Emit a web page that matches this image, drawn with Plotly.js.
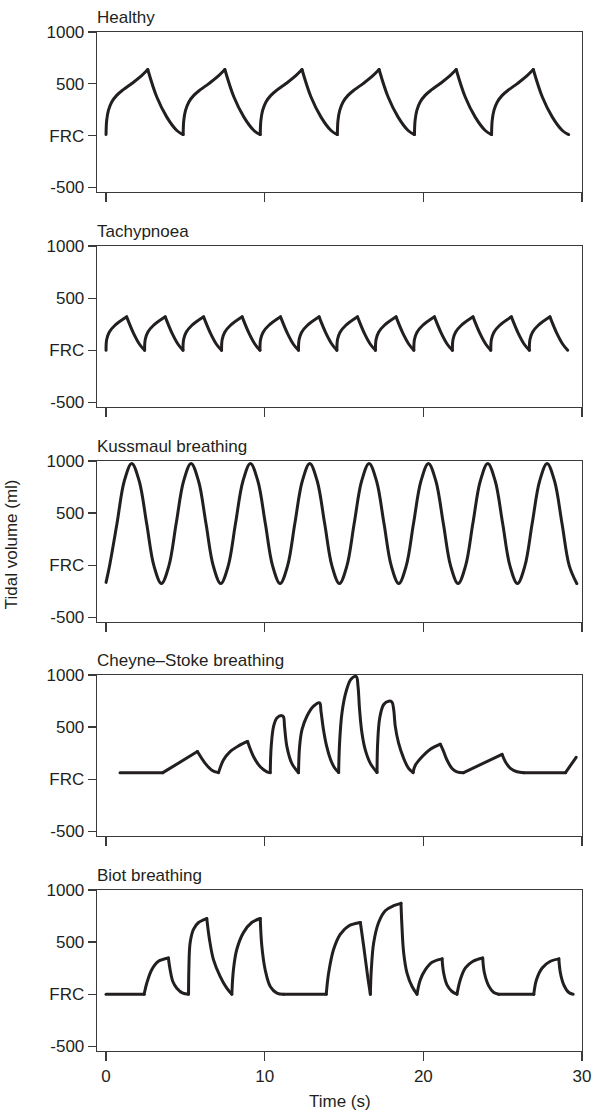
<!DOCTYPE html>
<html>
<head>
<meta charset="utf-8">
<script src="https://cdn.plot.ly/plotly-3.0.1.min.js"></script>
<style>
  html, body { margin: 0; padding: 0; background: #ffffff; }
  #chart { width: 595px; height: 1116px; }
  #chart path.js-line { stroke-linecap: round !important; stroke-linejoin: round !important; }
</style>
</head>
<body>
<div id="chart"></div>
<script>
// ---------- Data (time in s, volume in ml relative to FRC) ----------
// null separates breathing phases (each phase is a smooth piece; phases meet at sharp corners)
const panelTitles = ["Healthy", "Tachypnoea", "Kussmaul breathing", "Cheyne\u2013Stoke breathing", "Biot breathing"];
const yTickVals = [-500, 0, 500, 1000];
const yTickText = ["-500", "FRC", "500", "1000"];
const xTickVals = [0, 10, 20, 30];
const xTickText = ["0", "10", "20", "30"];

const healthyT = [
  0, 0.04, 0.15, 0.36, 0.67, 1.09, 1.62, 2.15, 2.63, null, 2.63, 3.20, 3.83, 4.46, 4.86, null,
  4.86, 4.90, 5.01, 5.22, 5.53, 5.95, 6.48, 7.01, 7.49, null, 7.49, 8.06, 8.69, 9.32, 9.72, null,
  9.72, 9.76, 9.87, 10.08, 10.39, 10.81, 11.34, 11.87, 12.35, null, 12.35, 12.92, 13.55, 14.18, 14.58, null,
  14.58, 14.62, 14.73, 14.94, 15.25, 15.67, 16.20, 16.73, 17.21, null, 17.21, 17.78, 18.41, 19.04, 19.44, null,
  19.44, 19.48, 19.59, 19.80, 20.11, 20.53, 21.06, 21.59, 22.07, null, 22.07, 22.64, 23.27, 23.90, 24.30, null,
  24.30, 24.34, 24.45, 24.66, 24.97, 25.39, 25.92, 26.45, 26.93, null, 26.93, 27.50, 28.13, 28.76, 29.16
];
const healthyV = [
  10, 146, 243, 324, 388, 443, 502, 566, 638, null, 638, 372, 178, 49, 10, null,
  10, 146, 243, 324, 388, 443, 502, 566, 638, null, 638, 372, 178, 49, 10, null,
  10, 146, 243, 324, 388, 443, 502, 566, 638, null, 638, 372, 178, 49, 10, null,
  10, 146, 243, 324, 388, 443, 502, 566, 638, null, 638, 372, 178, 49, 10, null,
  10, 146, 243, 324, 388, 443, 502, 566, 638, null, 638, 372, 178, 49, 10, null,
  10, 146, 243, 324, 388, 443, 502, 566, 638, null, 638, 372, 178, 49, 10
];

const tachyT = [
  0, 0.04, 0.20, 0.55, 1.30, null, 1.30, 1.72, 2.12, 2.43, null,
  2.43, 2.47, 2.63, 2.98, 3.73, null, 3.73, 4.15, 4.55, 4.85, null,
  4.85, 4.89, 5.05, 5.40, 6.15, null, 6.15, 6.57, 6.97, 7.28, null,
  7.28, 7.32, 7.48, 7.83, 8.58, null, 8.58, 9.00, 9.40, 9.70, null,
  9.70, 9.74, 9.90, 10.25, 11.00, null, 11.00, 11.42, 11.82, 12.13, null,
  12.13, 12.17, 12.33, 12.68, 13.43, null, 13.43, 13.85, 14.25, 14.55, null,
  14.55, 14.59, 14.75, 15.10, 15.85, null, 15.85, 16.27, 16.67, 16.98, null,
  16.98, 17.02, 17.18, 17.53, 18.28, null, 18.28, 18.70, 19.10, 19.40, null,
  19.40, 19.44, 19.60, 19.95, 20.70, null, 20.70, 21.12, 21.52, 21.83, null,
  21.83, 21.87, 22.03, 22.38, 23.13, null, 23.13, 23.55, 23.95, 24.25, null,
  24.25, 24.29, 24.45, 24.80, 25.55, null, 25.55, 25.97, 26.37, 26.68, null,
  26.68, 26.72, 26.88, 27.23, 27.98, null, 27.98, 28.40, 28.80, 29.10
];
const tachyV = [
  0, 103, 173, 237, 320, null, 320, 167, 55, 0, null,
  0, 103, 173, 237, 320, null, 320, 167, 55, 0, null,
  0, 103, 173, 237, 320, null, 320, 167, 55, 0, null,
  0, 103, 173, 237, 320, null, 320, 167, 55, 0, null,
  0, 103, 173, 237, 320, null, 320, 167, 55, 0, null,
  0, 103, 173, 237, 320, null, 320, 167, 55, 0, null,
  0, 103, 173, 237, 320, null, 320, 167, 55, 0, null,
  0, 103, 173, 237, 320, null, 320, 167, 55, 0, null,
  0, 103, 173, 237, 320, null, 320, 167, 55, 0, null,
  0, 103, 173, 237, 320, null, 320, 167, 55, 0, null,
  0, 103, 173, 237, 320, null, 320, 167, 55, 0, null,
  0, 103, 173, 237, 320, null, 320, 167, 55, 0
];

const kussT = [
  0, 0.22, 0.69, 1.15, 1.62,
  2.09, 2.56, 3.02, 3.49, 3.96, 4.42, 4.89, 5.36,
  5.83, 6.30, 6.76, 7.23, 7.70, 8.16, 8.63, 9.10,
  9.57, 10.04, 10.50, 10.97, 11.44, 11.90, 12.37, 12.84,
  13.31, 13.78, 14.24, 14.71, 15.18, 15.64, 16.11, 16.58,
  17.05, 17.52, 17.98, 18.45, 18.92, 19.38, 19.85, 20.32,
  20.79, 21.26, 21.72, 22.19, 22.66, 23.12, 23.59, 24.06,
  24.53, 25.00, 25.46, 25.93, 26.40, 26.86, 27.33, 27.80,
  28.27, 28.74, 29.20, 29.67
];
const kussV = [
  -165, -7, 400, 808, 977,
  808, 400, -7, -176, -7, 400, 808, 977,
  808, 400, -7, -176, -7, 400, 808, 977,
  808, 400, -7, -176, -7, 400, 808, 977,
  808, 400, -7, -176, -7, 400, 808, 977,
  808, 400, -7, -176, -7, 400, 808, 977,
  808, 400, -7, -176, -7, 400, 808, 977,
  808, 400, -7, -176, -7, 400, 808, 977,
  808, 400, -7, -176
];

const cheyneT = [
  0.88, 3.58, null,
  3.58, 5.76, null,
  5.76, 6.25, 6.67, 7.09, null,
  7.09, 7.40, 7.82, 8.35, 8.92, null,
  8.92, 9.30, 9.72, 10.14, 10.35, null,
  10.35, 10.41, 10.56, 10.77, 11.08, 11.19, 11.25, 11.40, 11.71, 12.13, null,
  12.13, 12.20, 12.35, 12.66, 13.08, 13.46, 13.55, 13.70, 13.90, 14.15, 14.40, 14.66, null,
  14.66, 14.72, 14.87, 15.14, 15.44, 15.77, 15.88, 15.98, 16.13, 16.34, 16.66, 17.08, null,
  17.08, 17.12, 17.25, 17.50, 17.81, 18.02, 18.13, 18.23, 18.44, 18.76, 19.07, 19.35, null,
  19.35, 19.50, 19.92, 20.44, 21.07, null,
  21.07, 21.28, 21.49, 21.81, 22.12, 22.54, null,
  22.54, 24.96, null,
  24.96, 25.17, 25.49, 25.91, 26.33, null,
  26.33, 28.96, null,
  28.96, 29.63
];
const cheyneV = [
  63, 63, null,
  63, 265, null,
  265, 152, 87, 63, null,
  63, 184, 265, 320, 362, null,
  362, 216, 119, 71, 63, null,
  63, 313, 507, 588, 610, 598, 507, 313, 152, 63, null,
  63, 313, 475, 604, 701, 733, 650, 480, 320, 190, 110, 65, null,
  65, 346, 636, 846, 959, 985, 895, 669, 443, 281, 152, 65, null,
  65, 346, 588, 717, 749, 740, 669, 507, 346, 200, 103, 63, null,
  63, 136, 216, 287, 336, null,
  336, 265, 184, 103, 71, 63, null,
  63, 239, null,
  239, 168, 103, 71, 63, null,
  63, 63, null,
  63, 210
];

const biotT = [
  0, 2.40, null,
  2.40, 2.57, 2.88, 3.30, 3.93, null,
  3.93, 4.04, 4.21, 4.46, 4.84, 5.20, null,
  5.20, 5.22, 5.30, 5.51, 5.83, 6.35, null,
  6.35, 6.52, 6.77, 7.19, 7.61, 7.93, null,
  7.93, 8.03, 8.24, 8.66, 9.18, 9.72, null,
  9.72, 9.82, 10.03, 10.35, 10.77, 11.20, null,
  11.20, 13.88, null,
  13.88, 14.03, 14.34, 14.76, 15.29, 16.03, null,
  16.03, 16.24, 16.49, 16.66, null,
  16.66, 16.72, 16.87, 17.18, 17.60, 18.13, 18.59, null,
  18.59, 18.65, 18.76, 18.97, 19.29, 19.60, null,
  19.60, 19.81, 20.13, 20.55, 21.18, null,
  21.18, 21.28, 21.49, 21.81, 22.12, null,
  22.12, 22.33, 22.65, 23.13, 23.74, null,
  23.74, 23.85, 24.12, 24.44, 24.75, null,
  24.75, 26.96, null,
  26.96, 27.13, 27.49, 28.01, 28.54, null,
  28.54, 28.64, 28.85, 29.17, 29.44
];
const biotV = [
  0, 0, null,
  0, 107, 235, 316, 348, null,
  348, 235, 122, 58, 10, 0, null,
  0, 235, 494, 623, 688, 726, null,
  726, 526, 332, 171, 58, 0, null,
  0, 235, 429, 591, 688, 726, null,
  726, 461, 235, 74, 10, 0, null,
  0, 0, null,
  0, 203, 429, 575, 655, 688, null,
  688, 461, 171, 0, null,
  0, 235, 494, 688, 801, 849, 872, null,
  872, 655, 397, 203, 74, 0, null,
  0, 139, 235, 306, 339, null,
  339, 203, 90, 26, 0, null,
  0, 139, 252, 316, 348, null,
  348, 203, 80, 16, 0, null,
  0, 0, null,
  0, 139, 252, 316, 339, null,
  339, 203, 90, 16, 0
];

const seriesT = [healthyT, tachyT, kussT, cheyneT, biotT];
const seriesV = [healthyV, tachyV, kussV, cheyneV, biotV];

// ---------- Layout ----------
const FONT = "Liberation Sans, Arial, Helvetica, sans-serif";
const INK = "#231f20";
const AXC = "#3a3a3a";
// panel domains (fraction of plot height, bottom to top), aligned to whole pixels
const domains = [
  [0.84298, 1.0],
  [0.63199, 0.78999],
  [0.42100, 0.57900],
  [0.21099, 0.36899],
  [0.0, 0.15800]
];

const traces = [];
const layout = {
  width: 595,
  height: 1116,
  margin: { l: 97, r: 13, t: 32, b: 65 },
  paper_bgcolor: "#ffffff",
  plot_bgcolor: "#ffffff",
  showlegend: false,
  font: { family: FONT, size: 17, color: INK },
  annotations: []
};

for (let i = 0; i < 5; i++) {
  const n = i + 1;
  const xa = n === 1 ? "x" : "x" + n;
  const ya = n === 1 ? "y" : "y" + n;
  traces.push({
    type: "scatter",
    mode: "lines",
    x: seriesT[i],
    y: seriesV[i],
    xaxis: xa,
    yaxis: ya,
    connectgaps: false,
    line: { color: INK, width: 3, shape: "spline", smoothing: 1 },
    hoverinfo: "skip"
  });
  layout["xaxis" + (n === 1 ? "" : n)] = {
    domain: [0, 1],
    anchor: ya,
    range: [-0.57, 30],
    tickvals: xTickVals,
    ticktext: xTickText,
    showticklabels: i === 4,
    ticks: "outside",
    ticklen: 9,
    tickwidth: 1.2,
    tickcolor: AXC,
    showline: true,
    mirror: true,
    linecolor: AXC,
    linewidth: 1.3,
    showgrid: false,
    zeroline: false,
    tickfont: { family: FONT, size: 17, color: INK }
  };
  layout["yaxis" + (n === 1 ? "" : n)] = {
    domain: domains[i],
    anchor: xa,
    range: [-545, 1000],
    tickvals: yTickVals,
    ticktext: yTickText,
    ticks: "outside",
    ticklen: 8,
    tickwidth: 1.2,
    tickcolor: AXC,
    showline: true,
    mirror: true,
    linecolor: AXC,
    linewidth: 1.3,
    showgrid: false,
    zeroline: false,
    tickfont: { family: FONT, size: 17, color: INK }
  };
  layout.annotations.push({
    text: panelTitles[i],
    xref: "paper",
    yref: "paper",
    x: 0,
    y: domains[i][1],
    xanchor: "left",
    yanchor: "bottom",
    xshift: -2,
    yshift: 3,
    showarrow: false,
    font: { family: FONT, size: 17, color: INK }
  });
}

layout.annotations.push({
  text: "Tidal volume (ml)",
  xref: "paper",
  yref: "paper",
  x: -0.177,
  y: 0.4975,
  xanchor: "center",
  yanchor: "middle",
  textangle: -90,
  showarrow: false,
  font: { family: FONT, size: 17, color: INK }
});
layout.annotations.push({
  text: "Time (s)",
  xref: "paper",
  yref: "paper",
  x: 0.501,
  y: -0.05,
  xanchor: "center",
  yanchor: "middle",
  showarrow: false,
  font: { family: FONT, size: 17, color: INK }
});

Plotly.newPlot("chart", traces, layout, { displayModeBar: false, staticPlot: true });
</script>
</body>
</html>
